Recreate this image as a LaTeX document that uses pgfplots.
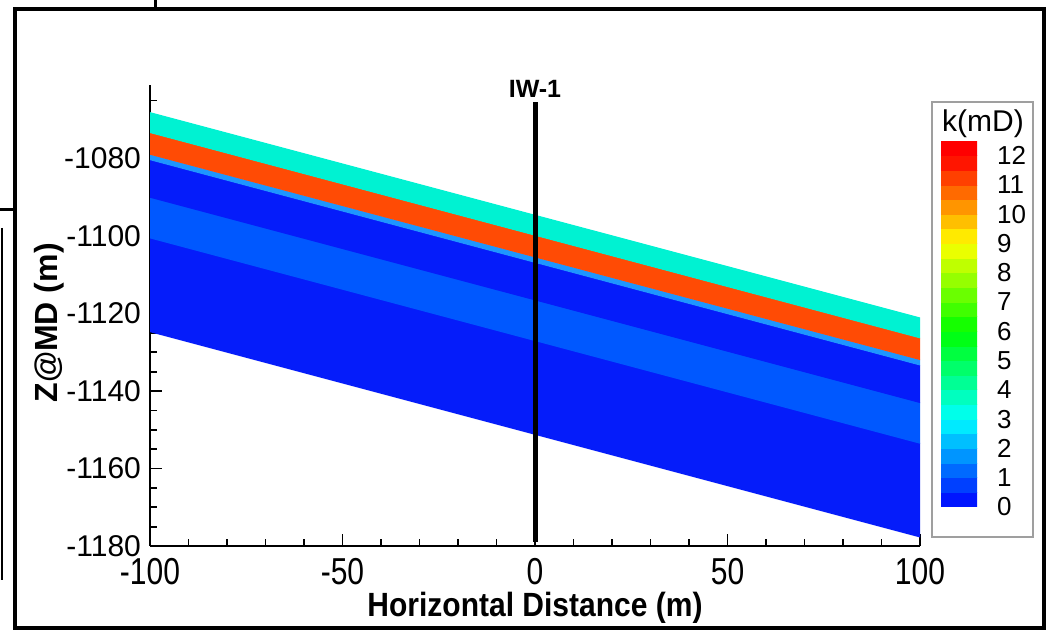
\documentclass[border=0pt]{standalone}
\usepackage{fontspec}
\setmainfont{Liberation Sans}
\usepackage{graphicx}
\usepackage{pgfplots}
\pgfplotsset{compat=1.18}

\definecolor{cyanL}{RGB}{0,242,210}
\definecolor{orangeL}{RGB}{255,75,5}
\definecolor{thinL}{RGB}{30,150,255}
\definecolor{darkB}{RGB}{5,28,250}
\definecolor{midB}{RGB}{0,88,255}

\newcommand{\xs}[1]{\scalebox{1}[1.25]{#1}}

\begin{document}
\begin{tikzpicture}[x=1pt,y=1pt]
\path[use as bounding box] (0,0) rectangle (524.5,315);
\begin{axis}[
  at={(75pt,42pt)}, anchor=south west,
  scale only axis, width=385pt, height=230.5pt,
  xmin=-100, xmax=100, ymin=-1180, ymax=-1061,
  clip mode=individual,
  axis lines=left,
  axis line style={-, line width=1.2pt, black},
  tick align=inside,
  major tick length=6pt, minor tick length=3.5pt,
  tick style={black, line width=0.9pt},
  xtick={-100,-50,0,50,100},
  xticklabels={\xs{-100},\xs{-50},\xs{0},\xs{50},\xs{100}},
  minor xtick={-90,-80,...,90},
  ytick={-1180,-1160,-1140,-1120,-1100,-1080},
  yticklabels={-1180,-1160,-1140,-1120,-1100,-1080},
  minor ytick={-1175,-1170,...,-1065},
  xticklabel style={font=\fontsize{15}{15}\selectfont, yshift=-2.5pt},
  yticklabel style={font=\fontsize{15}{15}\selectfont, xshift=-1pt},
  xlabel={\scalebox{1}[1.12]{\textbf{Horizontal Distance (m)}}},
  ylabel={\textbf{Z@MD (m)}},
  every axis x label/.style={at={(axis description cs:0.5,0)}, anchor=center, yshift=-31pt, font=\fontsize{15}{15}\selectfont},
  every axis y label/.style={at={(axis description cs:-0.131,0.484)}, anchor=center, rotate=90, font=\fontsize{16}{16}\selectfont},
  colormap={smallrainbow}{rgb255(0)=(0,0,255) rgb255(3)=(0,255,255) rgb255(6)=(0,255,0) rgb255(9)=(255,255,0) rgb255(12)=(255,0,0) rgb255(12.5)=(255,0,0)},
  point meta min=0, point meta max=12.5,
  colorbar sampled,
  colorbar style={
    samples=26,
    at={(parent axis.south east)}, anchor=south west,
    xshift=2pt, yshift=19.5pt,
    scale only axis, width=18pt, height=183pt,
    ytick={0,1,...,12},
    yticklabels={0,1,2,3,4,5,6,7,8,9,10,11,12},
    yticklabel pos=right,
    major tick length=0pt,
    ytick style={draw=none},
    axis line style={draw=none},
    yticklabel style={font=\fontsize{13}{13}\selectfont, anchor=west, xshift=6.5pt},
  },
]
% layers (top edge at x=-100, x=100 ; bottom edge at x=100, x=-100)
\addplot[fill=darkB, draw=none] coordinates {(-100,-1100.4) (100,-1153.4) (100,-1177.8) (-100,-1124.8)} -- cycle;
\addplot[fill=midB, draw=none] coordinates {(-100,-1089.9) (100,-1142.9) (100,-1153.6) (-100,-1100.6)} -- cycle;
\addplot[fill=darkB, draw=none] coordinates {(-100,-1080.3) (100,-1133.3) (100,-1143.1) (-100,-1090.1)} -- cycle;
\addplot[fill=thinL, draw=none] coordinates {(-100,-1078.9) (100,-1131.9) (100,-1133.4) (-100,-1080.4)} -- cycle;
\addplot[fill=orangeL, draw=none] coordinates {(-100,-1073.3) (100,-1126.3) (100,-1132.0) (-100,-1079.0)} -- cycle;
\addplot[fill=cyanL, draw=none] coordinates {(-100,-1068.0) (100,-1121.0) (100,-1126.4) (-100,-1073.4)} -- cycle;
% well IW-1
\addplot[black, line width=2.5pt, line cap=butt] coordinates {(0,-1065.5) (0,-1179)};
\node[above, inner sep=2.5pt, font=\bfseries\fontsize{12.5}{13}\selectfont] at (axis cs:0,-1065.5) {IW-1};
\end{axis}
% legend box
\draw[gray!75, line width=0.6pt] (466,46.5) rectangle (516.5,264);
\node[font=\fontsize{15}{15}\selectfont] at (491.5,253) {k(mD)};
% outer frame and neighbouring panel fragments
\draw[line width=2pt] (7.5,1) rectangle (521.75,310.5);
\draw[line width=1.5pt] (77.5,315) -- (77.5,310.5);
\draw[line width=1.5pt] (0,210) -- (7.5,210);
\draw[line width=1pt] (1,201) -- (1,25);
\end{tikzpicture}
\end{document}
